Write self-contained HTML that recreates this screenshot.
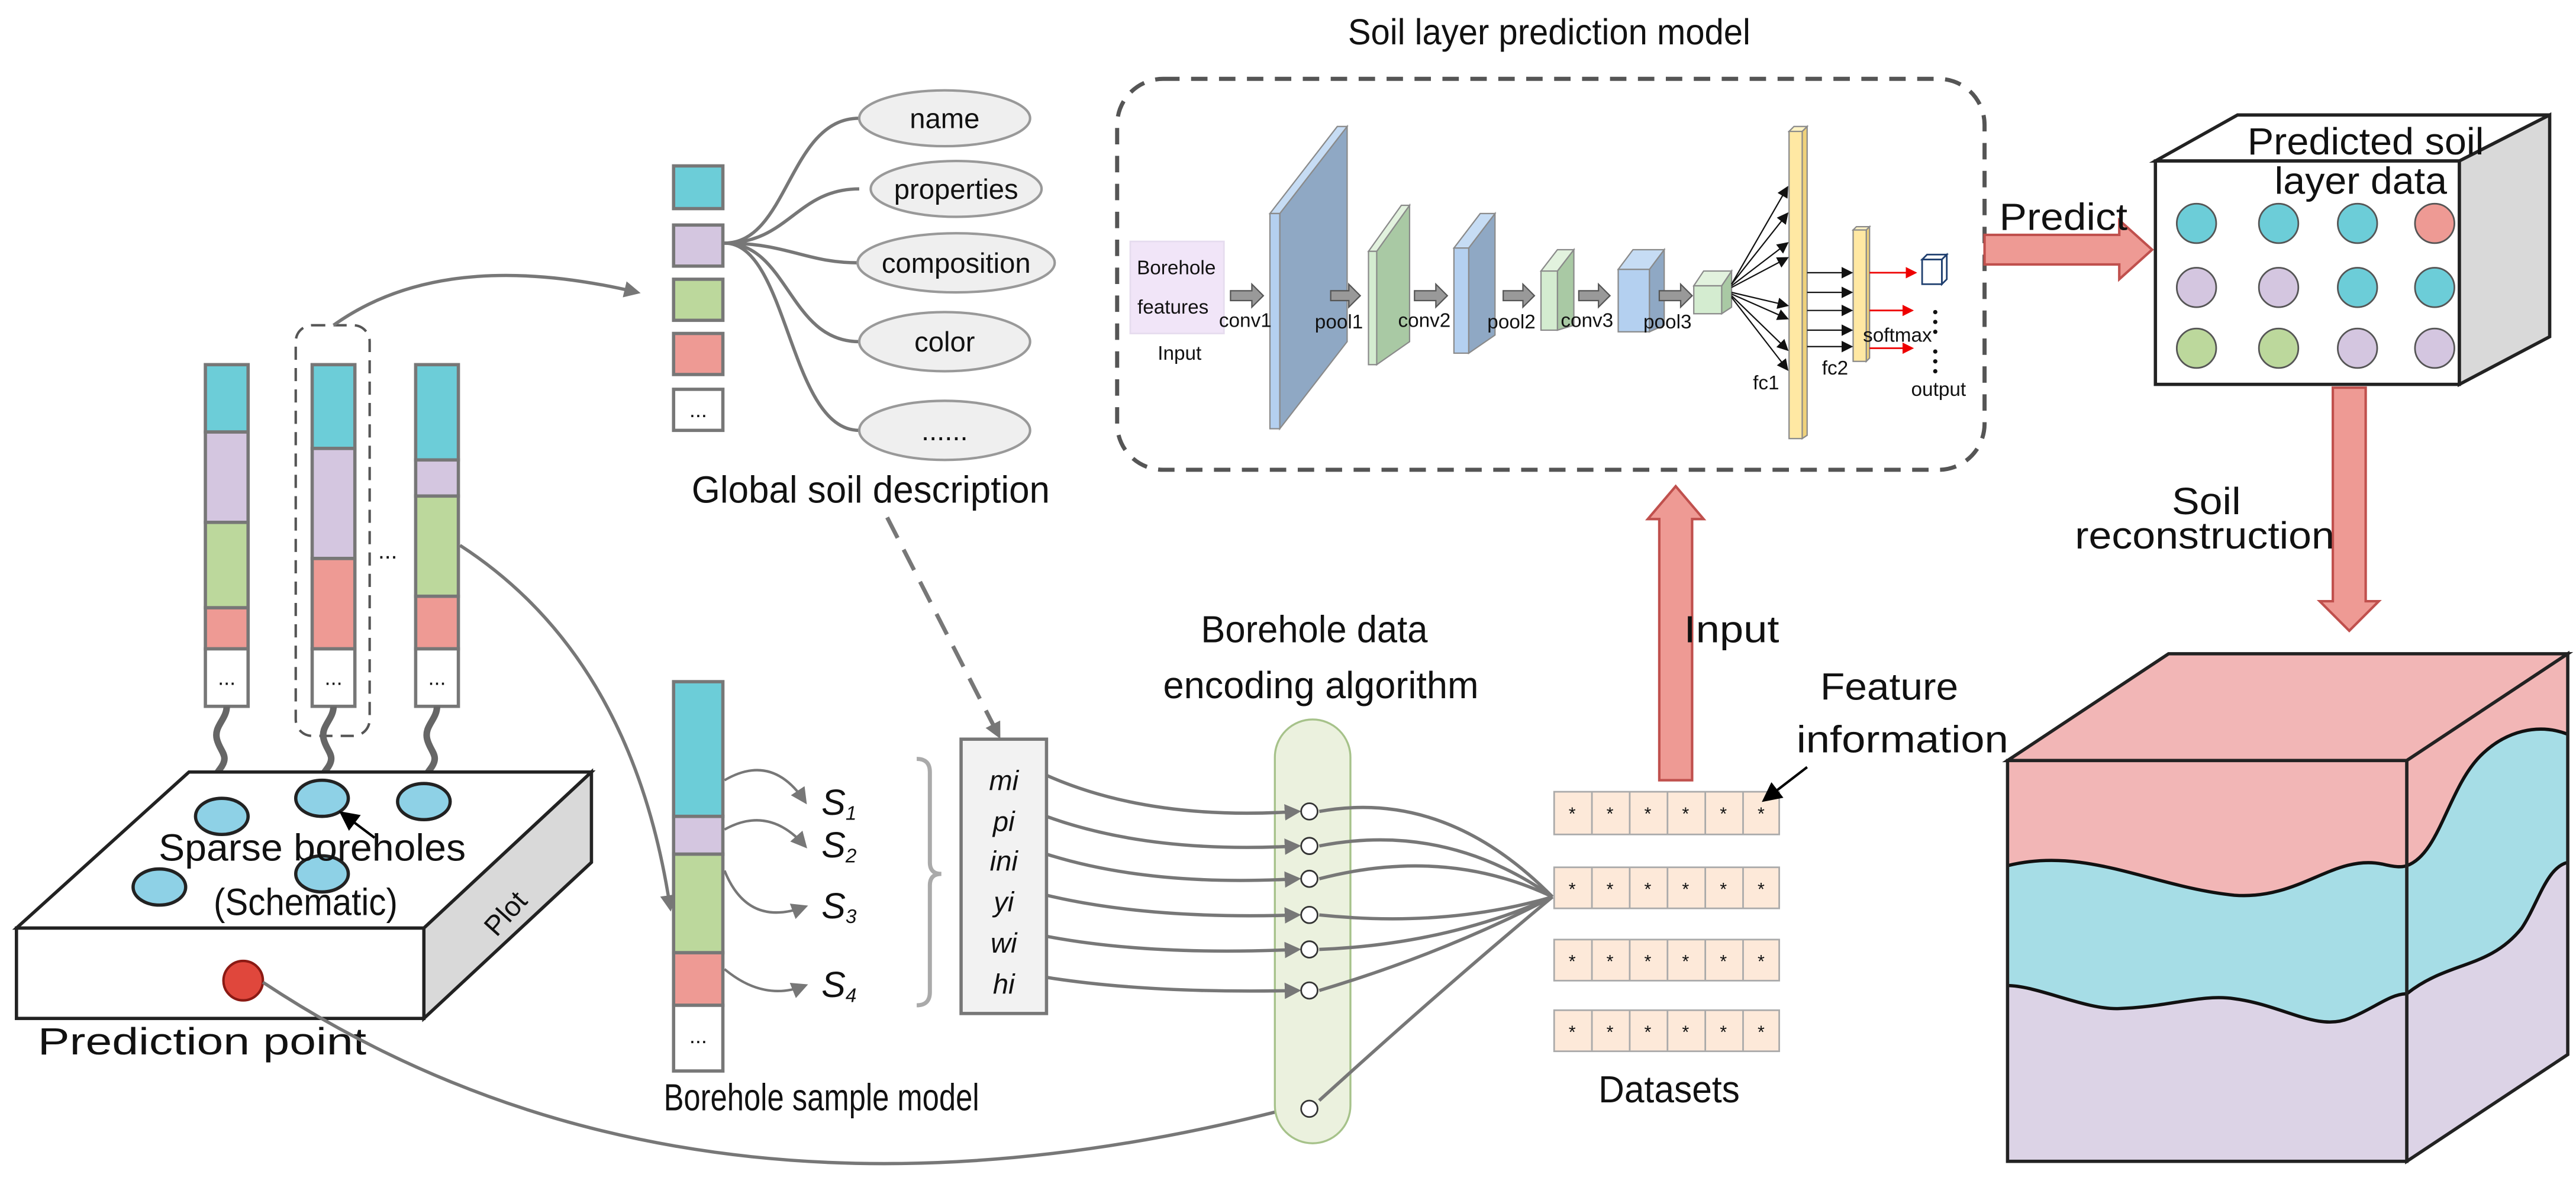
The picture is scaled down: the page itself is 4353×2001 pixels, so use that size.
<!DOCTYPE html>
<html><head><meta charset="utf-8"><style>
html,body{margin:0;padding:0;background:#fff}
svg{display:block}
text{font-family:"Liberation Sans",sans-serif;fill:#111}
.c{font-family:"Liberation Sans Narrow","Liberation Sans",sans-serif}
</style></head><body>
<svg width="4353" height="2001" viewBox="0 0 1568 720.8" xmlns="http://www.w3.org/2000/svg">
<defs>
<marker id="ag" markerWidth="10" markerHeight="10" refX="8" refY="5" orient="auto" markerUnits="userSpaceOnUse"><path d="M0,0 L10,5 L0,10 z" fill="#777"/></marker>
<marker id="ak" markerWidth="7" markerHeight="7" refX="6" refY="3.5" orient="auto" markerUnits="userSpaceOnUse"><path d="M0,0 L7,3.5 L0,7 z" fill="#111"/></marker>
<marker id="ar" markerWidth="7" markerHeight="7" refX="6" refY="3.5" orient="auto" markerUnits="userSpaceOnUse"><path d="M0,0 L7,3.5 L0,7 z" fill="#e00"/></marker>
<marker id="akb" markerWidth="12" markerHeight="12" refX="10" refY="6" orient="auto" markerUnits="userSpaceOnUse"><path d="M0,0 L12,6 L0,12 z" fill="#000"/></marker>
<clipPath id="sideclip"><polygon points="1465,463 1563,398 1563,642 1465,707"/></clipPath>
<clipPath id="frontclip"><rect x="1222" y="463" width="243" height="244"/></clipPath>
</defs>

<!-- Left borehole columns -->
<g stroke="#777" stroke-width="2">
<rect x="125" y="222" width="26" height="41" fill="#6ccdd8"/>
<rect x="125" y="263" width="26" height="55" fill="#d4c6e0"/>
<rect x="125" y="318" width="26" height="52" fill="#bcd89c"/>
<rect x="125" y="370" width="26" height="25" fill="#ee9a94"/>
<rect x="125" y="395" width="26" height="35" fill="#fff"/>
<rect x="190" y="222" width="26" height="51" fill="#6ccdd8"/>
<rect x="190" y="273" width="26" height="67" fill="#d4c6e0"/>
<rect x="190" y="340" width="26" height="55" fill="#ee9a94"/>
<rect x="190" y="395" width="26" height="35" fill="#fff"/>
<rect x="253" y="222" width="26" height="58" fill="#6ccdd8"/>
<rect x="253" y="280" width="26" height="22" fill="#d4c6e0"/>
<rect x="253" y="302" width="26" height="61" fill="#bcd89c"/>
<rect x="253" y="363" width="26" height="32" fill="#ee9a94"/>
<rect x="253" y="395" width="26" height="35" fill="#fff"/>
</g>
<text x="138" y="417" font-size="13" text-anchor="middle">...</text>
<text x="203" y="417" font-size="13" text-anchor="middle">...</text>
<text x="266" y="417" font-size="13" text-anchor="middle">...</text>
<text x="236" y="340" font-size="14" text-anchor="middle">...</text>
<rect x="180" y="198" width="45" height="250" rx="10" fill="none" stroke="#555" stroke-width="1.5" stroke-dasharray="8,5"/>

<g stroke="#666" stroke-width="4" fill="none">
<path d="M138,430 c0,8 -8,12 -6,20 s8,10 2,18 s-4,8 0,20"/>
<path d="M203,430 c0,8 -8,12 -6,20 s8,10 2,18 s-4,8 -5,10"/>
<path d="M266,430 c0,8 -8,12 -6,20 s8,10 2,18 s-4,8 -4,12"/>
</g>

<!-- Plot box -->
<polygon points="10,565 115,470 360,470 258,565" fill="#fff" stroke="#222" stroke-width="2"/>
<rect x="10" y="565" width="248" height="55" fill="#fff" stroke="#222" stroke-width="2"/>
<polygon points="258,565 360,470 360,525 258,620" fill="#d9d9d9" stroke="#222" stroke-width="2"/>
<text x="0" y="0" font-size="17" transform="translate(312,560) rotate(-48)" text-anchor="middle">Plot</text>
<g fill="#8ed1e6" stroke="#222" stroke-width="2">
<ellipse cx="135" cy="497" rx="16" ry="11"/>
<ellipse cx="196" cy="486" rx="16" ry="11"/>
<ellipse cx="258" cy="488" rx="16" ry="11"/>
<ellipse cx="97" cy="540" rx="16" ry="11"/>
<ellipse cx="196" cy="532" rx="16" ry="11"/>
</g>
<line x1="228" y1="510" x2="208" y2="495" stroke="#000" stroke-width="1.5" marker-end="url(#akb)"/>
<text x="190" y="524" font-size="23" text-anchor="middle" textLength="187" lengthAdjust="spacingAndGlyphs">Sparse boreholes</text>
<text x="186" y="557" font-size="23" text-anchor="middle" textLength="112" lengthAdjust="spacingAndGlyphs">(Schematic)</text>
<circle cx="148" cy="597" r="12" fill="#e0473c" stroke="#8b1a14" stroke-width="1.5"/>
<text x="123" y="642" font-size="23" text-anchor="middle" textLength="200" lengthAdjust="spacingAndGlyphs">Prediction point</text>

<!-- Global soil description -->
<g stroke="#777" stroke-width="2">
<rect x="410" y="101" width="30" height="26" fill="#6ccdd8"/>
<rect x="410" y="137" width="30" height="25" fill="#d4c6e0"/>
<rect x="410" y="170" width="30" height="25" fill="#bcd89c"/>
<rect x="410" y="203" width="30" height="25" fill="#ee9a94"/>
<rect x="410" y="237" width="30" height="25" fill="#fff"/>
</g>
<text x="425" y="254" font-size="13" text-anchor="middle">...</text>
<g stroke="#777" stroke-width="2" fill="none">
<path d="M441,148 C480,148 480,72 523,72"/>
<path d="M441,148 C480,148 485,115 523,115"/>
<path d="M441,148 C480,148 490,160 523,160"/>
<path d="M441,148 C480,148 480,208 523,208"/>
<path d="M441,148 C480,148 480,262 523,262"/>
</g>
<g fill="#efefef" stroke="#999" stroke-width="1.5">
<ellipse cx="575" cy="72" rx="52" ry="17"/>
<ellipse cx="582" cy="115" rx="52" ry="17"/>
<ellipse cx="582" cy="160" rx="60" ry="18"/>
<ellipse cx="575" cy="208" rx="52" ry="18"/>
<ellipse cx="575" cy="262" rx="52" ry="18"/>
</g>
<g font-size="17" text-anchor="middle">
<text x="575" y="78">name</text>
<text x="582" y="121">properties</text>
<text x="582" y="166">composition</text>
<text x="575" y="214">color</text>
<text x="575" y="268">......</text>
</g>
<text x="530" y="306" font-size="23" text-anchor="middle" textLength="218" lengthAdjust="spacingAndGlyphs">Global soil description</text>

<path d="M203,198 Q270,150 388,178" stroke="#777" stroke-width="2" fill="none" marker-end="url(#ag)"/>
<path d="M540,315 L608,448" stroke="#777" stroke-width="2.5" fill="none" stroke-dasharray="14,8" marker-end="url(#ag)"/>
<path d="M280,332 Q385,400 408,553" stroke="#777" stroke-width="2" fill="none" marker-end="url(#ag)"/>
<path d="M160,598 Q420,770 788,674" stroke="#777" stroke-width="2" fill="none" marker-end="url(#ag)"/>

<!-- Borehole sample model -->
<g stroke="#777" stroke-width="2">
<rect x="410" y="415" width="30" height="82" fill="#6ccdd8"/>
<rect x="410" y="497" width="30" height="23" fill="#d4c6e0"/>
<rect x="410" y="520" width="30" height="60" fill="#bcd89c"/>
<rect x="410" y="580" width="30" height="32" fill="#ee9a94"/>
<rect x="410" y="612" width="30" height="40" fill="#fff"/>
</g>
<text x="425" y="635" font-size="13" text-anchor="middle">...</text>
<g stroke="#777" stroke-width="1.5" fill="none">
<path d="M441,475 Q470,458 490,488" marker-end="url(#ag)"/>
<path d="M441,505 Q468,490 490,515" marker-end="url(#ag)"/>
<path d="M441,530 Q455,565 490,552" marker-end="url(#ag)"/>
<path d="M441,590 Q465,610 490,600" marker-end="url(#ag)"/>
</g>
<g font-family="Liberation Serif" font-style="italic" font-size="22">
<text x="500" y="496">S<tspan font-size="12" dy="3">1</tspan></text>
<text x="500" y="522">S<tspan font-size="12" dy="3">2</tspan></text>
<text x="500" y="559">S<tspan font-size="12" dy="3">3</tspan></text>
<text x="500" y="607">S<tspan font-size="12" dy="3">4</tspan></text>
</g>
<path d="M558,462 q8,0 8,8 v55 q0,7 7,7 q-7,0 -7,7 v65 q0,8 -8,8" stroke="#aaa" stroke-width="2.5" fill="none"/>
<rect x="585" y="450" width="52" height="167" fill="#f2f2f2" stroke="#777" stroke-width="2"/>
<g font-family="Liberation Serif" font-style="italic" font-size="17" text-anchor="middle">
<text x="611" y="481">mi</text>
<text x="611" y="506">pi</text>
<text x="611" y="530">ini</text>
<text x="611" y="555">yi</text>
<text x="611" y="580">wi</text>
<text x="611" y="605">hi</text>
</g>
<text x="500" y="676" font-size="23" text-anchor="middle" textLength="192" lengthAdjust="spacingAndGlyphs">Borehole sample model</text>

<!-- Encoding algorithm -->
<text x="800" y="391" font-size="23" text-anchor="middle" textLength="138" lengthAdjust="spacingAndGlyphs">Borehole data</text>
<text x="804" y="425" font-size="23" text-anchor="middle" textLength="192" lengthAdjust="spacingAndGlyphs">encoding algorithm</text>
<rect x="776" y="438" width="46" height="258" rx="23" fill="#ebf1de" stroke="#a6c28a" stroke-width="1.2"/>
<g stroke="#777" stroke-width="2" fill="none">
<path d="M637,472 Q700,500 790,494" marker-end="url(#ag)"/>
<path d="M637,497 Q700,520 790,515" marker-end="url(#ag)"/>
<path d="M637,520 Q700,540 790,535" marker-end="url(#ag)"/>
<path d="M637,545 Q700,560 790,557" marker-end="url(#ag)"/>
<path d="M637,570 Q700,582 790,578" marker-end="url(#ag)"/>
<path d="M637,595 Q700,605 790,603" marker-end="url(#ag)"/>
<path d="M803,494 Q880,480 945,546"/>
<path d="M803,515 Q880,500 945,546"/>
<path d="M803,535 Q880,515 945,546"/>
<path d="M803,557 Q880,565 945,546"/>
<path d="M803,578 Q880,575 945,546"/>
<path d="M803,603 Q880,580 945,546"/>
<path d="M803,670 Q880,600 945,546"/>
</g>
<g fill="#fff" stroke="#333" stroke-width="1">
<circle cx="797" cy="494" r="5"/><circle cx="797" cy="515" r="5"/><circle cx="797" cy="535" r="5"/>
<circle cx="797" cy="557" r="5"/><circle cx="797" cy="578" r="5"/><circle cx="797" cy="603" r="5"/>
<circle cx="797" cy="675" r="5"/>
</g>

<!-- Datasets -->
<g fill="#fde9d9" stroke="#aaa" stroke-width="1">
<rect x="946" y="482" width="137" height="26"/>
<rect x="946" y="528" width="137" height="25"/>
<rect x="946" y="572" width="137" height="25"/>
<rect x="946" y="615" width="137" height="25"/>
</g>
<g stroke="#aaa" stroke-width="1">
<path d="M969,482 v26 M992,482 v26 M1015,482 v26 M1038,482 v26 M1061,482 v26"/>
<path d="M969,528 v25 M992,528 v25 M1015,528 v25 M1038,528 v25 M1061,528 v25"/>
<path d="M969,572 v25 M992,572 v25 M1015,572 v25 M1038,572 v25 M1061,572 v25"/>
<path d="M969,615 v25 M992,615 v25 M1015,615 v25 M1038,615 v25 M1061,615 v25"/>
</g>
<g font-size="11" text-anchor="middle">
<text x="957" y="499">*</text><text x="980" y="499">*</text><text x="1003" y="499">*</text><text x="1026" y="499">*</text><text x="1049" y="499">*</text><text x="1072" y="499">*</text>
<text x="957" y="545">*</text><text x="980" y="545">*</text><text x="1003" y="545">*</text><text x="1026" y="545">*</text><text x="1049" y="545">*</text><text x="1072" y="545">*</text>
<text x="957" y="589">*</text><text x="980" y="589">*</text><text x="1003" y="589">*</text><text x="1026" y="589">*</text><text x="1049" y="589">*</text><text x="1072" y="589">*</text>
<text x="957" y="632">*</text><text x="980" y="632">*</text><text x="1003" y="632">*</text><text x="1026" y="632">*</text><text x="1049" y="632">*</text><text x="1072" y="632">*</text>
</g>
<text x="1016" y="671" font-size="23" text-anchor="middle" textLength="86" lengthAdjust="spacingAndGlyphs">Datasets</text>
<text x="1150" y="426" font-size="23" text-anchor="middle" textLength="84" lengthAdjust="spacingAndGlyphs">Feature</text>
<text x="1158" y="458" font-size="23" text-anchor="middle" textLength="129" lengthAdjust="spacingAndGlyphs">information</text>
<line x1="1100" y1="467" x2="1074" y2="487" stroke="#000" stroke-width="1.5" marker-end="url(#akb)"/>

<!-- Input arrow -->
<polygon points="1010,475 1010,316 1003,316 1020,296 1037,316 1030,316 1030,475" fill="#ee9a94" stroke="#c0504d" stroke-width="1.5"/>
<text x="1054" y="391" font-size="23" text-anchor="middle" textLength="58" lengthAdjust="spacingAndGlyphs">Input</text>

<!-- CNN dashed box -->
<text x="943" y="27" font-size="22" text-anchor="middle" textLength="245" lengthAdjust="spacingAndGlyphs">Soil layer prediction model</text>
<rect x="680" y="48" width="528" height="238" rx="28" fill="none" stroke="#555" stroke-width="2.5" stroke-dasharray="10,7"/>

<rect x="688" y="147" width="57" height="56" fill="#f1e5f8" stroke="#e6dcef" stroke-width="1"/>
<g class="c" font-size="12">
<text x="716" y="167" text-anchor="middle">Borehole</text>
<text x="714" y="191" text-anchor="middle">features</text>
<text x="718" y="219" text-anchor="middle">Input</text>
</g>
<g stroke="#8a8a8a" stroke-width="0.8">
<polygon points="779,130 820,77 820,208 779,261" fill="#8fa8c4"/>
<polygon points="773,130 814,77 820,77 779,130" fill="#c6dcf4"/>
<rect x="773" y="130" width="6" height="131" fill="#b4d0f0"/>
<polygon points="838,153 858,125 858,208 838,222" fill="#a9c9a4"/>
<polygon points="833,153 853,125 858,125 838,153" fill="#e2f2de"/>
<rect x="833" y="153" width="5" height="69" fill="#d4ecd0"/>
<polygon points="894,151 910,130 910,204 894,215" fill="#8fa8c4"/>
<polygon points="885,151 901,130 910,130 894,151" fill="#c6dcf4"/>
<rect x="885" y="151" width="9" height="64" fill="#b4d0f0"/>
<polygon points="948,165 958,152 958,198 948,201" fill="#a9c9a4"/>
<polygon points="938,165 948,152 958,152 948,165" fill="#e2f2de"/>
<rect x="938" y="165" width="10" height="36" fill="#d4ecd0"/>
<polygon points="1004,164 1013,152 1013,198 1004,202" fill="#8fa8c4"/>
<polygon points="985,164 994,152 1013,152 1004,164" fill="#c6dcf4"/>
<rect x="985" y="164" width="19" height="38" fill="#b4d0f0"/>
<polygon points="1048,174 1054,165 1054,187 1048,191" fill="#a9c9a4"/>
<polygon points="1031,174 1037,165 1054,165 1048,174" fill="#e2f2de"/>
<rect x="1031" y="174" width="17" height="17" fill="#d4ecd0"/>
<polygon points="1097,80 1100,77 1100,265 1097,267" fill="#f0d27a"/>
<polygon points="1089,80 1092,77 1100,77 1097,80" fill="#fff3c4"/>
<rect x="1089" y="80" width="8" height="187" fill="#ffe8a3"/>
<polygon points="1136,140 1138,138 1138,218 1136,220" fill="#f0d27a"/>
<polygon points="1128,140 1130,138 1138,138 1136,140" fill="#fff3c4"/>
<rect x="1128" y="140" width="8" height="80" fill="#ffe8a3"/>
</g>
<g fill="#999" stroke="#555" stroke-width="0.8">
<polygon points="749,177 762,177 762,173 769,180 762,187 762,183 749,183"/>
<polygon points="810,177 821,177 821,173 828,180 821,187 821,183 810,183"/>
<polygon points="861,177 874,177 874,173 881,180 874,187 874,183 861,183"/>
<polygon points="915,177 927,177 927,173 934,180 927,187 927,183 915,183"/>
<polygon points="961,177 973,177 973,173 980,180 973,187 973,183 961,183"/>
<polygon points="1010,177 1023,177 1023,173 1030,180 1023,187 1023,183 1010,183"/>
</g>
<g class="c" font-size="12" text-anchor="middle">
<text x="758" y="199">conv1</text>
<text x="815" y="200">pool1</text>
<text x="867" y="199">conv2</text>
<text x="920" y="200">pool2</text>
<text x="966" y="199">conv3</text>
<text x="1015" y="200">pool3</text>
<text x="1075" y="237">fc1</text>
<text x="1117" y="228">fc2</text>
<text x="1155" y="208">softmax</text>
<text x="1180" y="241">output</text>
</g>
<g stroke="#111" stroke-width="0.8" marker-end="url(#ak)">
<line x1="1054" y1="173" x2="1088" y2="114"/>
<line x1="1054" y1="173" x2="1088" y2="130"/>
<line x1="1054" y1="174" x2="1088" y2="148"/>
<line x1="1054" y1="175" x2="1088" y2="157"/>
<line x1="1054" y1="178" x2="1088" y2="186"/>
<line x1="1054" y1="179" x2="1088" y2="194"/>
<line x1="1054" y1="180" x2="1088" y2="213"/>
<line x1="1054" y1="181" x2="1088" y2="225"/>
<line x1="1100" y1="166" x2="1127" y2="166"/>
<line x1="1100" y1="178" x2="1127" y2="178"/>
<line x1="1100" y1="189" x2="1127" y2="189"/>
<line x1="1100" y1="201" x2="1127" y2="201"/>
<line x1="1100" y1="211" x2="1127" y2="211"/>
</g>
<g stroke="#e00" stroke-width="1" marker-end="url(#ar)">
<line x1="1138" y1="166" x2="1166" y2="166"/>
<line x1="1138" y1="189" x2="1164" y2="189"/>
<line x1="1138" y1="212" x2="1164" y2="212"/>
</g>
<g fill="#fff" stroke="#1f3f6f" stroke-width="1">
<polygon points="1170,158 1173,155 1185,155 1182,158"/>
<polygon points="1182,158 1185,155 1185,170 1182,173"/>
<rect x="1170" y="158" width="12" height="15"/>
</g>
<g fill="#111">
<circle cx="1178" cy="190" r="1.3"/><circle cx="1178" cy="196" r="1.3"/><circle cx="1178" cy="202" r="1.3"/>
<circle cx="1178" cy="214" r="1.3"/><circle cx="1178" cy="220" r="1.3"/><circle cx="1178" cy="226" r="1.3"/>
</g>

<!-- Predict arrow -->
<polygon points="1208,143 1290,143 1290,134 1310,152 1290,170 1290,161 1208,161" fill="#ee9a94" stroke="#c0504d" stroke-width="1.5"/>
<text x="1256" y="140" font-size="23" text-anchor="middle" textLength="78" lengthAdjust="spacingAndGlyphs">Predict</text>

<!-- predicted cube -->
<polygon points="1312,98 1362,70 1552,70 1497,98" fill="#fff" stroke="#222" stroke-width="2"/>
<polygon points="1497,98 1552,70 1552,205 1497,234" fill="#d9d9d9" stroke="#222" stroke-width="2"/>
<rect x="1312" y="98" width="185" height="136" fill="#fff" stroke="#222" stroke-width="2"/>
<text x="1440" y="94" font-size="23" text-anchor="middle" textLength="144" lengthAdjust="spacingAndGlyphs">Predicted soil</text>
<text x="1437" y="118" font-size="23" text-anchor="middle" textLength="105" lengthAdjust="spacingAndGlyphs">layer data</text>
<g stroke="#555" stroke-width="1">
<circle cx="1337" cy="136" r="12" fill="#6ccdd8"/><circle cx="1387" cy="136" r="12" fill="#6ccdd8"/><circle cx="1435" cy="136" r="12" fill="#6ccdd8"/><circle cx="1482" cy="136" r="12" fill="#ee9a94"/>
<circle cx="1337" cy="175" r="12" fill="#d4c6e0"/><circle cx="1387" cy="175" r="12" fill="#d4c6e0"/><circle cx="1435" cy="175" r="12" fill="#6ccdd8"/><circle cx="1482" cy="175" r="12" fill="#6ccdd8"/>
<circle cx="1337" cy="212" r="12" fill="#bcd89c"/><circle cx="1387" cy="212" r="12" fill="#bcd89c"/><circle cx="1435" cy="212" r="12" fill="#d4c6e0"/><circle cx="1482" cy="212" r="12" fill="#d4c6e0"/>
</g>

<!-- down arrow -->
<polygon points="1420,236 1440,236 1440,366 1448,366 1430,384 1412,366 1420,366" fill="#ee9a94" stroke="#c0504d" stroke-width="1.5"/>
<text x="1343" y="313" font-size="23" text-anchor="middle" textLength="42" lengthAdjust="spacingAndGlyphs">Soil</text>
<text x="1342" y="334" font-size="23" text-anchor="middle" textLength="158" lengthAdjust="spacingAndGlyphs">reconstruction</text>

<!-- soil block -->
<polygon points="1222,463 1320,398 1563,398 1465,463" fill="#f2b6b6" stroke="#222" stroke-width="2"/>
<g clip-path="url(#sideclip)">
<rect x="1465" y="398" width="98" height="309" fill="#dcd3e6"/>
<path d="M1465,605 C1490,585 1515,590 1535,565 C1545,550 1550,528 1563,525 L1563,380 L1465,380 Z" fill="#a6dde6"/>
<path d="M1465,527 C1485,520 1490,480 1510,460 C1525,445 1545,440 1563,447 L1563,380 L1465,380 Z" fill="#f2b6b6"/>
<path d="M1465,527 C1485,520 1490,480 1510,460 C1525,445 1545,440 1563,447" fill="none" stroke="#111" stroke-width="2"/>
<path d="M1465,605 C1490,585 1515,590 1535,565 C1545,550 1550,528 1563,525" fill="none" stroke="#111" stroke-width="2"/>
</g>
<polygon points="1465,463 1563,398 1563,642 1465,707" fill="none" stroke="#222" stroke-width="2"/>
<g clip-path="url(#frontclip)">
<rect x="1222" y="463" width="243" height="244" fill="#dcd3e6"/>
<path d="M1222,600 C1240,600 1270,615 1290,614 C1320,613 1340,605 1360,608 C1390,612 1410,628 1430,620 C1445,614 1455,605 1465,605 L1470,450 L1215,450 Z" fill="#a6dde6"/>
<path d="M1222,527 C1270,515 1310,540 1360,545 C1400,548 1420,520 1450,526 C1458,528 1462,528 1465,527 L1470,450 L1215,450 Z" fill="#f2b6b6"/>
<path d="M1222,527 C1270,515 1310,540 1360,545 C1400,548 1420,520 1450,526 C1458,528 1462,528 1465,527" fill="none" stroke="#111" stroke-width="2"/>
<path d="M1222,600 C1240,600 1270,615 1290,614 C1320,613 1340,605 1360,608 C1390,612 1410,628 1430,620 C1445,614 1455,605 1465,605" fill="none" stroke="#111" stroke-width="2"/>
</g>
<rect x="1222" y="463" width="243" height="244" fill="none" stroke="#222" stroke-width="2"/>
</svg>
</body></html>
